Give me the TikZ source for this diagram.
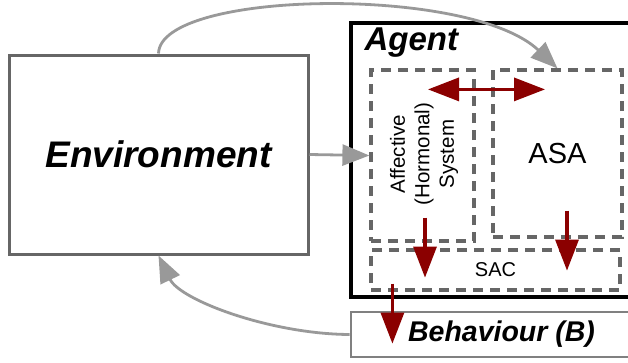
\documentclass[tikz,border=0pt]{standalone}
\usepackage{fontspec}
\setmainfont{Liberation Sans}
\usetikzlibrary{arrows.meta,positioning}
\definecolor{boxgray}{HTML}{666666}
\definecolor{linkgray}{HTML}{999999}
\definecolor{darkred}{HTML}{8B0000}

\begin{document}
\begin{tikzpicture}[x=1pt,y=-1pt,
		box/.style={rectangle,draw,inner sep=0pt},
		dashbox/.style={rectangle,draw=boxgray,line width=3.2pt,dash pattern=on 10pt off 7pt,inner sep=0pt},
		greyarrow/.style={draw=linkgray,line width=2.8pt,-{Triangle[length=27pt,width=21pt]}},
		redarrow/.style={draw=darkred,line width=3.2pt,-{Triangle[length=31pt,width=23pt]}},
		redboth/.style={draw=darkred,line width=3.2pt,{Triangle[length=31pt,width=23pt]}-{Triangle[length=31pt,width=23pt]}}]
		\useasboundingbox (0,0) rectangle (628,362);
		\clip (0,0) rectangle (628,362);
		% Place nodes
		\node [box,draw=boxgray,line width=3pt,minimum width=299pt,minimum height=199pt,font=\fontsize{37}{44}\selectfont\bfseries\itshape] (env) at (158.5,154.5) {Environment};
		\node [box,draw=black,line width=3.2pt,minimum width=350pt,minimum height=274pt] (agent) at (526,160) {};
		\node [anchor=base west,inner sep=0pt,font=\fontsize{33}{40}\selectfont\bfseries\itshape] (agentlabel) at ([shift={(15,29)}]agent.north west) {Agent};
		\node [box,draw=gray,line width=2.8pt,minimum width=301pt,minimum height=45pt,font=\fontsize{28.5}{34}\selectfont\bfseries\itshape] (beh) at (501.5,334.5) {Behaviour (B)};
		\node [dashbox,minimum width=103pt,minimum height=171pt] (aff) at (422.5,155.5) {};
		\node [rotate=90,align=center,inner sep=0pt,font=\fontsize{20.5}{24.5}\selectfont] (afflabel) at (424,154) {Affective\\(Hormonal)\\System};
		\node [dashbox,minimum width=129pt,minimum height=167pt,font=\fontsize{29}{35}\selectfont] (asa) at (557.5,153.5) {ASA};
		\node [dashbox,minimum width=249pt,minimum height=40pt,font=\fontsize{20}{24}\selectfont] (sac) at (495.5,270) {SAC};

		% Links
		\draw [greyarrow] (env.north) .. controls (160,-10) and (470,-15) .. (asa.north);
		\draw [greyarrow] (env.east) -- (aff.west);
		\draw [greyarrow] (beh.west) .. controls (270,334) and (180,300) .. (env.south);
		\draw [redboth] ([shift={(5.5,21)}]aff.north) -- ([shift={(-12.5,21)}]asa.north);
		\draw [redarrow] ([shift={(2.5,-25)}]aff.south) -- ++(0,60);
		\draw [redarrow] ([shift={(9.5,-28)}]asa.south) -- ++(0,60);
		\draw [redarrow] ([shift={(23,-8)}]sac.south west) -- ++(0,60);
	\end{tikzpicture}
\end{document}
